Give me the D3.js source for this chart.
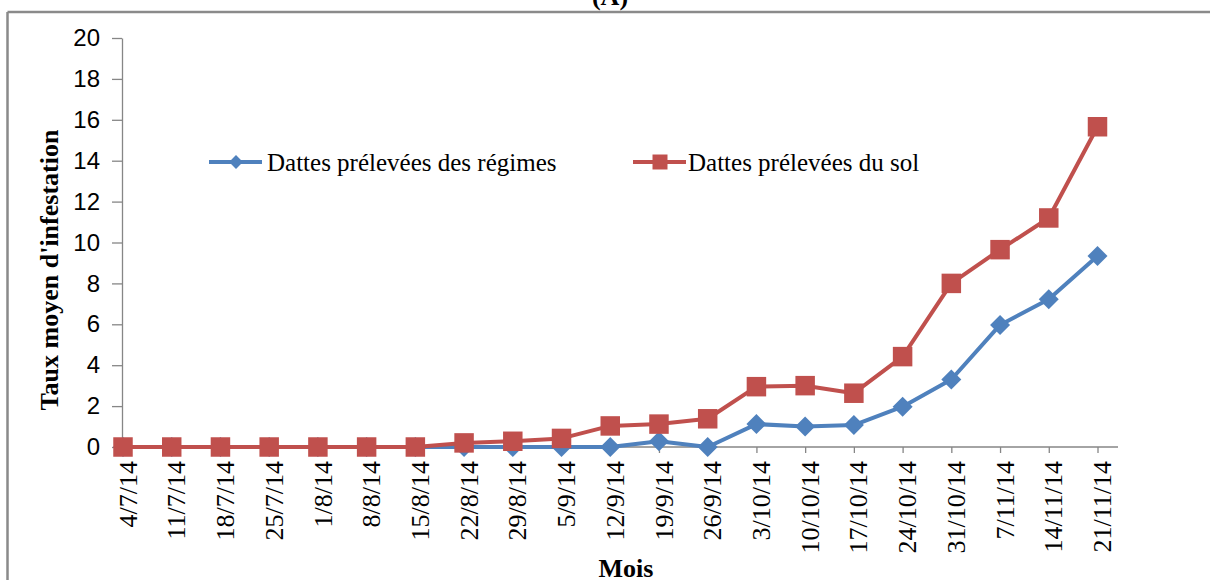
<!DOCTYPE html>
<html>
<head>
    <meta charset="utf-8">
    <title>Taux moyen d'infestation</title>
    <script src="https://cdn.jsdelivr.net/npm/d3@7"></script>
    <style>
        body { margin: 0; background: #fff; }
        #drawingPlace text { fill: #000; }
        .serif { font-family: "Liberation Serif", "Times New Roman", serif; }
        .sans { font-family: "Liberation Sans", Arial, sans-serif; }
    </style>
</head>
<body>
    <svg id="drawingPlace" width="1210" height="580"></svg>

    <script>
        // dates (categories)
        var dates = ["4/7/14", "11/7/14", "18/7/14", "25/7/14", "1/8/14", "8/8/14", "15/8/14",
            "22/8/14", "29/8/14", "5/9/14", "12/9/14", "19/9/14", "26/9/14", "3/10/14",
            "10/10/14", "17/10/14", "24/10/14", "31/10/14", "7/11/14", "14/11/14", "21/11/14"];

        // Dattes prélevées des régimes
        var regimes = [0, 0, 0, 0, 0, 0, 0, 0, 0, 0, 0, 0.28, 0, 1.12, 1.0, 1.07, 1.97, 3.3, 5.97, 7.22, 9.34];

        // Dattes prélevées du sol
        var sol = [0, 0, 0, 0, 0, 0, 0, 0.2, 0.28, 0.42, 1.03, 1.12, 1.38, 2.95, 3.0, 2.63, 4.42, 8.0, 9.65, 11.2, 15.66];

        var yTicks = [0, 2, 4, 6, 8, 10, 12, 14, 16, 18, 20];

        var series = [
            { name: "Dattes prélevées des régimes", values: regimes, color: "#4F81BD", marker: "diamond" },
            { name: "Dattes prélevées du sol", values: sol, color: "#C0504D", marker: "square" }
        ];

        var svg = d3.select("#drawingPlace");
        var axisColor = "#868686";

        //outer frame (top and left edges visible)
        svg.append("line").attr("x1", 7.5).attr("x2", 1210).attr("y1", 12).attr("y2", 12)
            .attr("stroke", "#8a8a8a").attr("stroke-width", 2.5);
        svg.append("line").attr("x1", 7.5).attr("x2", 7.5).attr("y1", 12).attr("y2", 580)
            .attr("stroke", "#8a8a8a").attr("stroke-width", 2.5);

        //title cut by top edge
        svg.append("text").attr("class", "serif")
            .attr("x", 610).attr("y", 5)
            .attr("text-anchor", "middle")
            .style("font-size", "26px").style("font-weight", "bold")
            .text("(A)");

        //scales
        var x = d3.scalePoint().domain(dates).range([123, 1097.5]);
        var y = d3.scaleLinear().domain([0, 20]).range([447, 38]);

        //y axis
        var yAxis = svg.append("g")
            .attr("transform", "translate(122,0)")
            .call(d3.axisLeft(y).tickValues(yTicks).tickSize(10).tickPadding(12).tickSizeOuter(0));
        yAxis.select(".domain").attr("stroke", axisColor).attr("stroke-width", 1.3);
        yAxis.selectAll(".tick line").attr("stroke", axisColor).attr("stroke-width", 1.3);
        yAxis.selectAll(".tick text").attr("class", "sans")
            .style("font-size", "24px").attr("fill", "#222");

        //x axis
        var xAxis = svg.append("g")
            .attr("transform", "translate(0,447)")
            .call(d3.axisBottom(x).tickSize(6).tickSizeOuter(0));
        xAxis.select(".domain").remove();
        xAxis.append("line").attr("x1", 122).attr("x2", 1118).attr("y1", 0).attr("y2", 0)
            .attr("stroke", axisColor).attr("stroke-width", 1.5);
        xAxis.selectAll(".tick line").attr("stroke", axisColor).attr("stroke-width", 1.3);
        xAxis.selectAll(".tick text")
            .attr("class", "serif")
            .style("font-size", "26px")
            .style("text-anchor", "end")
            .attr("transform", "rotate(-90)")
            .attr("x", -14)
            .attr("y", 4)
            .attr("dy", "0.35em");

        //axis titles
        svg.append("text").attr("class", "serif")
            .attr("transform", "translate(58,270) rotate(-90)")
            .attr("text-anchor", "middle")
            .style("font-size", "26px").style("font-weight", "bold")
            .text("Taux moyen d'infestation");

        svg.append("text").attr("class", "serif")
            .attr("x", 626).attr("y", 577)
            .attr("text-anchor", "middle")
            .style("font-size", "26px").style("font-weight", "bold")
            .text("Mois");

        //lines and markers
        var line = d3.line()
            .x(function (d, i) { return x(dates[i]); })
            .y(function (d) { return y(d); });

        var diamond = d3.symbol().type(d3.symbolSquare).size(200);
        var square = d3.symbol().type(d3.symbolSquare).size(380);

        function drawMarker(g, s, big) {
            if (s.marker === "diamond") {
                g.append("path")
                    .attr("d", d3.symbol().type(d3.symbolSquare).size(big ? 200 : 95)())
                    .attr("transform", "rotate(45)")
                    .attr("fill", s.color);
            } else {
                g.append("path")
                    .attr("d", d3.symbol().type(d3.symbolSquare).size(big ? 380 : 225)())
                    .attr("fill", s.color);
            }
        }

        series.forEach(function (s) {
            var g = svg.append("g");
            g.append("path")
                .datum(s.values)
                .attr("d", line)
                .attr("fill", "none")
                .attr("stroke", s.color)
                .attr("stroke-width", 4)
                .attr("stroke-linejoin", "round");

            g.selectAll("g.pt")
                .data(s.values)
                .enter()
                .append("g")
                .attr("class", "pt")
                .attr("transform", function (d, i) { return "translate(" + x(dates[i]) + "," + y(d) + ")"; })
                .each(function () { drawMarker(d3.select(this), s, true); });
        });

        //legend
        var legendPos = [{ x: 209, tx: 267 }, { x: 633, tx: 688 }];
        series.forEach(function (s, i) {
            var lg = svg.append("g").attr("transform", "translate(" + legendPos[i].x + ",162)");
            lg.append("line").attr("x1", 0).attr("x2", 53).attr("y1", 0).attr("y2", 0)
                .attr("stroke", s.color).attr("stroke-width", 4);
            var m = lg.append("g").attr("transform", "translate(27,0)");
            drawMarker(m, s, false);
            svg.append("text").attr("class", "serif")
                .attr("x", legendPos[i].tx).attr("y", 171)
                .style("font-size", "25px")
                .text(s.name);
        });
    </script>
</body>
</html>
